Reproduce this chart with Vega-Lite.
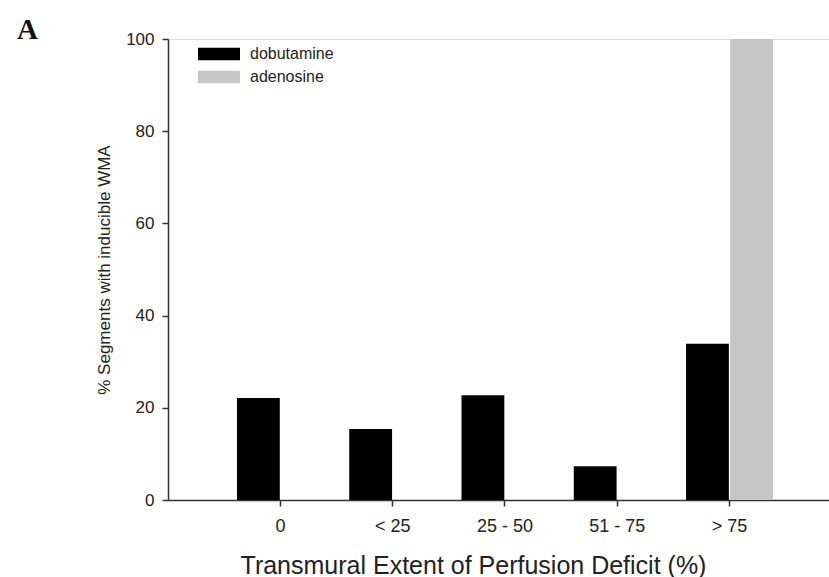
{
  "$schema": "https://vega.github.io/schema/vega-lite/v6.json",
  "width": 661,
  "height": 461,
  "autosize": {"type": "none"},
  "padding": {"left": 168, "top": 39, "right": 0, "bottom": 77},
  "background": "white",
  "title": {
    "text": "A",
    "anchor": "start",
    "frame": "group",
    "dx": -151,
    "dy": 39,
    "offset": 1,
    "baseline": "alphabetic",
    "font": "Liberation Serif",
    "fontSize": 29,
    "fontWeight": "bold",
    "color": "#111"
  },
  "data": {
    "values": [
      {"category": "0", "series": "dobutamine", "value": 22.1},
      {"category": "0", "series": "adenosine", "value": 0},
      {"category": "< 25", "series": "dobutamine", "value": 15.4},
      {"category": "< 25", "series": "adenosine", "value": 0},
      {"category": "25 - 50", "series": "dobutamine", "value": 22.7},
      {"category": "25 - 50", "series": "adenosine", "value": 0},
      {"category": "51 - 75", "series": "dobutamine", "value": 7.3},
      {"category": "51 - 75", "series": "adenosine", "value": 0},
      {"category": "> 75", "series": "dobutamine", "value": 33.9},
      {"category": "> 75", "series": "adenosine", "value": 100}
    ]
  },
  "mark": {"type": "bar"},
  "encoding": {
    "x": {
      "field": "category",
      "type": "nominal",
      "sort": ["0", "< 25", "25 - 50", "51 - 75", "> 75"],
      "scale": {"paddingInner": 0.225, "paddingOuter": 0.5565, "align": 0.552},
      "axis": {
        "title": "Transmural Extent of Perfusion Deficit (%)",
        "labelAngle": 0,
        "labelFont": "Liberation Sans",
        "labelFontSize": 18,
        "labelColor": "#222",
        "labelPadding": 11,
        "tickSize": 6,
        "tickColor": "#333",
        "tickWidth": 1.5,
        "domainColor": "#333",
        "domainWidth": 1.5,
        "titleFont": "Liberation Sans",
        "titleFontSize": 25,
        "titleFontWeight": "normal",
        "titleColor": "#222",
        "titleX": 305,
        "titleY": 73,
        "titleAlign": "center",
        "titleBaseline": "alphabetic"
      }
    },
    "xOffset": {
      "field": "series",
      "sort": ["dobutamine", "adenosine"],
      "scale": {"paddingInner": 0.03}
    },
    "y": {
      "field": "value",
      "type": "quantitative",
      "scale": {"domain": [0, 100], "nice": false},
      "axis": {
        "title": "% Segments with inducible WMA",
        "values": [0, 20, 40, 60, 80, 100],
        "grid": false,
        "labelFont": "Liberation Sans",
        "labelFontSize": 17,
        "labelColor": "#222",
        "labelPadding": 8,
        "tickSize": 6,
        "tickColor": "#333",
        "tickWidth": 1.5,
        "domainColor": "#333",
        "domainWidth": 1.5,
        "titleFont": "Liberation Sans",
        "titleFontSize": 17,
        "titleFontWeight": "normal",
        "titleColor": "#222",
        "titlePadding": 12
      }
    },
    "color": {
      "field": "series",
      "type": "nominal",
      "scale": {"domain": ["dobutamine", "adenosine"], "range": ["#000000", "#c6c6c6"]},
      "legend": {
        "title": null,
        "orient": "none",
        "legendX": 40.5,
        "legendY": 4.5,
        "padding": 0,
        "symbolType": "M-2,-0.6H2V0.6H-2Z",
        "symbolSize": 441,
        "symbolStrokeWidth": 0,
        "labelFont": "Liberation Sans",
        "labelFontSize": 16,
        "labelColor": "#222",
        "labelOffset": 20.5,
        "rowPadding": 4
      }
    }
  }
}
